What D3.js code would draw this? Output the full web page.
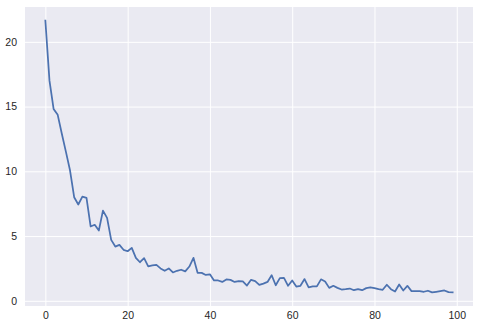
<!DOCTYPE html>
<html>
<head>
<meta charset="utf-8">
<script src="https://cdn.jsdelivr.net/npm/d3@7"></script>
<style>
  html, body { margin: 0; padding: 0; background: #ffffff; }
  svg { display: block; }
</style>
</head>
<body>
<div id="chart"></div>
<script>
const xValues = d3.range(0, 100);
const yValues = [
  21.64, 17.0, 14.82, 14.36, 12.9, 11.5, 10.06, 8.0, 7.44, 8.05,
  7.95, 5.74, 5.87, 5.43, 6.97, 6.4, 4.71, 4.19, 4.32, 3.94,
  3.83, 4.09, 3.32, 2.98, 3.29, 2.66, 2.73, 2.77, 2.5, 2.32,
  2.5, 2.19, 2.32, 2.4, 2.27, 2.65, 3.32, 2.16, 2.16, 2.0,
  2.05, 1.57, 1.57, 1.46, 1.65, 1.62, 1.46, 1.52, 1.5, 1.18,
  1.62, 1.52, 1.23, 1.33, 1.46, 1.98, 1.2, 1.75, 1.77, 1.16,
  1.57, 1.1, 1.16, 1.68, 1.04, 1.12, 1.12, 1.66, 1.49, 1.0,
  1.16, 1.0, 0.87, 0.9, 0.95, 0.82, 0.9, 0.82, 0.98, 1.03,
  0.98, 0.9, 0.85, 1.24, 0.9, 0.72, 1.26, 0.8, 1.16, 0.75,
  0.75, 0.75, 0.7, 0.78, 0.65, 0.7, 0.75, 0.8, 0.67, 0.65
];
const xTicks = [0, 20, 40, 60, 80, 100];
const yTicks = [0, 5, 10, 15, 20];

const W = 479, H = 330;
const plot = { left: 25, right: 473, top: 7, bottom: 306 };
const fontFamily = "'Liberation Sans Narrow', 'Arial Narrow', 'Liberation Sans', Arial, sans-serif";

const data = xValues.map((x, i) => ({ x, y: yValues[i] }));

const xMin = d3.min(xValues), xMax = d3.max(xValues);
const yMin = d3.min(yValues), yMax = d3.max(yValues);
const xPad = (xMax - xMin) * 0.05, yPad = (yMax - yMin) * 0.05;

const x = d3.scaleLinear().domain([xMin - xPad, xMax + xPad]).range([plot.left, plot.right]);
const y = d3.scaleLinear().domain([yMin - yPad, yMax + yPad]).range([plot.bottom, plot.top]);

const svg = d3.select("#chart").append("svg").attr("width", W).attr("height", H);

svg.append("rect")
  .attr("x", plot.left).attr("y", plot.top)
  .attr("width", plot.right - plot.left).attr("height", plot.bottom - plot.top)
  .attr("fill", "#EAEAF2");

const gx = svg.append("g").attr("transform", `translate(0,${plot.bottom})`)
  .call(d3.axisBottom(x).tickValues(xTicks).tickSize(-(plot.bottom - plot.top)).tickPadding(6).tickFormat(d3.format("d")));
const gy = svg.append("g").attr("transform", `translate(${plot.left},0)`)
  .call(d3.axisLeft(y).tickValues(yTicks).tickSize(-(plot.right - plot.left)).tickPadding(8).tickFormat(d3.format("d")));

[gx, gy].forEach(g => {
  g.select(".domain").remove();
  g.selectAll(".tick line").attr("stroke", "#ffffff").attr("stroke-width", 1);
  g.selectAll(".tick text").attr("fill", "#262626").attr("font-size", "10.5px")
    .attr("font-family", fontFamily);
});

const line = d3.line().x(d => x(d.x)).y(d => y(d.y));
svg.append("path")
  .datum(data)
  .attr("fill", "none")
  .attr("stroke", "#4C72B0")
  .attr("stroke-width", 1.75)
  .attr("stroke-linejoin", "round")
  .attr("stroke-linecap", "square")
  .attr("d", line);
</script>
</body>
</html>
